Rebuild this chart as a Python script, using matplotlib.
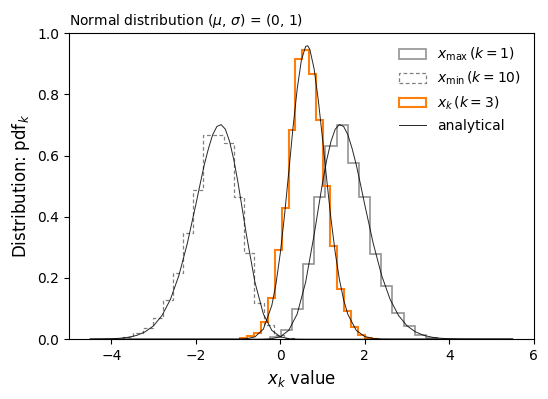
import numpy as np
import matplotlib
matplotlib.use("Agg")
import matplotlib.pyplot as plt
from matplotlib.patches import Patch
from matplotlib.lines import Line2D

# ---- histogram data ----
max_edges = [-0.25, 0.014, 0.278, 0.542, 0.806, 1.07, 1.334, 1.598, 1.862,
             2.126, 2.39, 2.654, 2.918, 3.182, 3.446, 3.71]
max_vals = [0.008, 0.03, 0.097, 0.247, 0.463, 0.63, 0.70, 0.576, 0.466,
            0.277, 0.173, 0.086, 0.042, 0.015, 0.005]

min_edges = [-3.719, -3.481, -3.244, -3.006, -2.768, -2.531, -2.293, -2.056,
             -1.818, -1.580, -1.343, -1.105, -0.867, -0.630, -0.392, -0.154,
             0.083, 0.321]
min_vals = [0.008, 0.019, 0.035, 0.068, 0.127, 0.215, 0.347, 0.487, 0.667,
            0.667, 0.64, 0.465, 0.28, 0.117, 0.046, 0.013, 0.003]

k3_edges = [-0.96, -0.795, -0.63, -0.465, -0.30, -0.135, 0.03, 0.195, 0.36,
            0.525, 0.69, 0.855, 1.02, 1.185, 1.35, 1.515, 1.68, 1.845, 2.01,
            2.175, 2.34]
k3_vals = [0.004, 0.01, 0.02, 0.055, 0.135, 0.29, 0.43, 0.685, 0.914, 0.945,
           0.865, 0.716, 0.50, 0.304, 0.165, 0.092, 0.04, 0.012, 0.005, 0.002]

# ---- analytical curves ----
max_x = [-4.5, -0.8, -0.6, -0.4, -0.2, 0.0, 0.2, 0.4, 0.6, 0.8, 0.9, 1.0, 1.1,
         1.2, 1.3, 1.4, 1.5, 1.6, 1.7, 1.8, 1.9, 2.0, 2.2, 2.4, 2.6, 2.8, 3.0,
         3.2, 3.4, 3.6, 3.8, 4.0, 4.2, 4.4, 5.5]
max_y = [0.0, 0.0, 0.00003, 0.00025, 0.0016, 0.0078, 0.0287, 0.0821, 0.186,
         0.340, 0.426, 0.511, 0.586, 0.646, 0.686, 0.701, 0.695, 0.668, 0.623,
         0.569, 0.505, 0.439, 0.313, 0.208, 0.130, 0.0772, 0.0435, 0.0239,
         0.0122, 0.0061, 0.0029, 0.0013, 0.0006, 0.00025, 0.0]

min_x = [-4.5, -4.4, -4.2, -4.0, -3.8, -3.6, -3.4, -3.2, -3.0, -2.8, -2.6,
         -2.4, -2.2, -2.0, -1.9, -1.8, -1.7, -1.6, -1.5, -1.4, -1.3, -1.2,
         -1.1, -1.0, -0.9, -0.8, -0.6, -0.4, -0.2, 0.0, 0.2, 0.4, 0.6, 0.8, 5.5]
min_y = [0.0, 0.00025, 0.0006, 0.0013, 0.0029, 0.0061, 0.0122, 0.0239, 0.0435,
         0.0772, 0.130, 0.208, 0.313, 0.439, 0.505, 0.569, 0.623, 0.668, 0.695,
         0.701, 0.686, 0.646, 0.586, 0.511, 0.426, 0.340, 0.186, 0.0821,
         0.0287, 0.0078, 0.0016, 0.00025, 0.00003, 0.0, 0.0]

k3_x = [-4.5, -1.0, -0.8, -0.6, -0.4, -0.2, -0.1, 0.0, 0.1, 0.2, 0.3, 0.4, 0.5,
        0.6, 0.65, 0.7, 0.8, 0.9, 1.0, 1.1, 1.2, 1.3, 1.4, 1.5, 1.6, 1.8, 2.0,
        2.2, 2.4, 2.6, 5.5]
k3_y = [0.0, 0.00015, 0.00124, 0.00738, 0.0329, 0.1102, 0.1822, 0.2805, 0.4044,
        0.545, 0.6894, 0.817, 0.9121, 0.9565, 0.9587, 0.9465, 0.884, 0.7813,
        0.6545, 0.5204, 0.3935, 0.2835, 0.1951, 0.1282, 0.0808, 0.0284, 0.0086,
        0.0022, 0.0005, 0.0001, 0.0]

labels = [r"$x_{\rm max}\,(k=1)$", r"$x_{\rm min}\,(k=10)$", r"$x_k\,(k=3)$",
          "analytical"]

fig = plt.figure(figsize=(5.48, 3.99), dpi=100)
ax = fig.add_axes([0.126, 0.150, 0.848, 0.767])

ax.stairs(max_vals, max_edges, color="gray", lw=1.2, alpha=0.85)
ax.stairs(min_vals, min_edges, color="gray", lw=0.9, linestyle=(0, (3, 2)))
ax.stairs(k3_vals, k3_edges, color="#ff7f0e", lw=1.5)

ax.plot(max_x, max_y, color="k", lw=0.7, alpha=0.85)
ax.plot(min_x, min_y, color="k", lw=0.7, alpha=0.85)
ax.plot(k3_x, k3_y, color="k", lw=0.7, alpha=0.85)

handles = [
    Patch(facecolor="none", edgecolor="gray", lw=1.2, alpha=0.85),
    Patch(facecolor="none", edgecolor="gray", lw=0.9, linestyle=(0, (3, 2))),
    Patch(facecolor="none", edgecolor="#ff7f0e", lw=1.5),
    Line2D([], [], color="k", lw=0.7, alpha=0.85),
]

ax.set_xlim(-5, 6)
ax.set_ylim(0, 1.0)
ax.set_xticks([-4, -2, 0, 2, 4, 6])
ax.set_yticks([0.0, 0.2, 0.4, 0.6, 0.8, 1.0])
ax.set_xlabel(r"$x_k$ value", fontsize=12)
ax.set_ylabel(r"Distribution: pdf$_k$", fontsize=12)
ax.set_title(r"Normal distribution ($\mu$, $\sigma$) = (0, 1)", loc="left",
             fontsize=10)
ax.legend(handles, labels, loc="upper right", frameon=False, fontsize=10)

fig.savefig("out.png", dpi=100)
